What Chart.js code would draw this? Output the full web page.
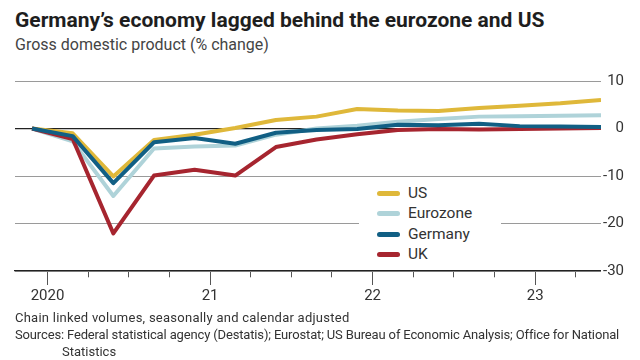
<!DOCTYPE html>
<html>
<head>
<meta charset="utf-8">
<script src="https://cdn.jsdelivr.net/npm/chart.js@4.4.0/dist/chart.umd.min.js"></script>
<style>
  body { margin: 0; background: #fff; font-family: Roboto, "Noto Sans", sans-serif; color: #333; }
  #wrap { position: relative; width: 640px; height: 360px; overflow: hidden; }
  h1 { position: absolute; left: 15px; top: 7px; margin: 0; font-size: 21px; line-height: 26px; font-weight: 700; color: #1e1e1e; white-space: nowrap; }
  .sub { position: absolute; left: 15px; top: 35px; font-size: 16px; line-height: 20px; color: #444; white-space: nowrap; }
  #chartBox { position: absolute; left: 0; top: 70px; width: 640px; height: 241px; }
  #legend { position: absolute; left: 359px; top: 183px; width: 142px; height: 82px; background: #fff; }
  #legend .row { position: absolute; left: 0; height: 20px; width: 142px; }
  #legend .sw { position: absolute; left: 18px; top: 8px; width: 23px; height: 5px; border-radius: 3px; }
  #legend .lb { position: absolute; left: 49px; top: 0; font-size: 15.5px; line-height: 20px; color: #333; }
  .notes { position: absolute; left: 15px; top: 309px; font-size: 13px; line-height: 17px; color: #333; white-space: nowrap; }
</style>
</head>
<body>
<div id="wrap">
  <h1>Germany’s economy lagged behind the eurozone and US</h1>
  <div class="sub">Gross domestic product (% change)</div>
  <div id="chartBox"><canvas id="gdp-chart" width="640" height="241"></canvas></div>
  <div id="legend"></div>
  <div class="notes">
    <div style="letter-spacing:0.25px">Chain linked volumes, seasonally and calendar adjusted</div>
    <div style="letter-spacing:-0.15px">Sources: Federal statistical agency (Destatis); Eurostat; US Bureau of Economic Analysis; Office for National</div>
    <div style="padding-left:47px">Statistics</div>
  </div>
</div>
<script>
// data, % change since Q4 2019
const quarters = ['2019 Q4', '2020 Q1', '2020 Q2', '2020 Q3', '2020 Q4', '2021 Q1', '2021 Q2', '2021 Q3',
  '2021 Q4', '2022 Q1', '2022 Q2', '2022 Q3', '2022 Q4', '2023 Q1', '2023 Q2'];
const us       = [0, -1.0, -10.1, -2.4, -1.3,  0.1,  1.8,  2.5, 4.1,  3.8,  3.7,  4.3, 4.8, 5.3, 6.0];
const eurozone = [0, -2.7, -14.2, -4.2, -3.8, -3.6, -1.3,  0.0, 0.6,  1.4,  2.0,  2.5, 2.6, 2.7, 2.8];
const germany  = [0, -1.6, -11.5, -2.9, -2.0, -3.2, -0.9, -0.3, -0.1, 0.8,  0.7,  1.0, 0.5, 0.4, 0.3];
const uk       = [0, -2.2, -22.1, -9.9, -8.7, -9.9, -3.9, -2.3, -1.2, -0.3, -0.1, -0.2, -0.1, 0.0, 0.1];

const yTicks = [10, 0, -10, -20, -30];
const tickYears = [2020, 2021, 2022, 2023];
const tickLabels = ['2020', '21', '22', '23'];

// legend order (top to bottom)
const series = [
  { name: 'US', data: us, color: '#dfb83a' },
  { name: 'Eurozone', data: eurozone, color: '#afd3d9' },
  { name: 'Germany', data: germany, color: '#115f84' },
  { name: 'UK', data: uk, color: '#a6252f' }
];
// drawing order: first one ends up on top
const drawOrder = ['Germany', 'UK', 'US', 'Eurozone'];

// quarter label -> position in years (points sit a bit into the quarter)
function qx(label) {
  const parts = label.split(' Q');
  return Number(parts[0]) + (Number(parts[1]) - 1) / 4 + 0.155;
}

const datasets = drawOrder.map(name => {
  const s = series.find(d => d.name === name);
  return {
    label: s.name,
    data: s.data.map((v, i) => ({ x: qx(quarters[i]), y: v })),
    borderColor: s.color,
    backgroundColor: s.color,
    borderWidth: 4,
    borderJoinStyle: 'round',
    pointRadius: 0,
    tension: 0,
    fill: false
  };
});

// html legend
const legendBox = document.getElementById('legend');
series.forEach((s, i) => {
  const row = document.createElement('div');
  row.className = 'row';
  row.style.top = (i * 20.3) + 'px';
  row.innerHTML = `<span class="sw" style="background:${s.color}"></span><span class="lb">${s.name}</span>`;
  legendBox.appendChild(row);
});

const gdpCanvas = document.getElementById('gdp-chart');
const gdpChart = new Chart(gdpCanvas, {
  type: 'line',
  data: { datasets: datasets },
  options: {
    responsive: false,
    devicePixelRatio: 1,
    animation: false,
    layout: { padding: { left: 15, right: 16, top: 11, bottom: 4 } },
    plugins: { legend: { display: false }, tooltip: { enabled: false } },
    scales: {
      x: {
        type: 'linear',
        min: 2019.8,
        max: 2023.405,
        afterBuildTicks: scale => {
          const t = [];
          for (let y = 2020; y <= 2023; y++) {
            for (let q = 0; q < 4; q++) {
              if (y + q / 4 <= scale.max) t.push({ value: y + q / 4 });
            }
          }
          scale.ticks = t;
        },
        ticks: {
          autoSkip: false,
          maxRotation: 0,
          padding: 2,
          color: '#333',
          font: { family: 'Roboto', size: 15 },
          callback: v => {
            const k = tickYears.indexOf(v);
            return k >= 0 ? tickLabels[k] : '';
          }
        },
        grid: {
          drawOnChartArea: false,
          tickLength: 14,
          tickColor: '#555',
          tickWidth: 1,
          tickBorderDash: ctx => tickYears.includes(ctx.tick.value) ? [] : [6, 40]
        },
        border: { color: '#222', width: 1.3 }
      },
      y: {
        position: 'right',
        min: -30,
        max: 10,
        afterBuildTicks: scale => { scale.ticks = yTicks.map(v => ({ value: v })); },
        ticks: {
          crossAlign: 'far',
          padding: 1,
          color: '#333',
          font: { family: 'Roboto', size: 15 }
        },
        grid: {
          drawTicks: false,
          color: ctx => ctx.tick.value === 0 ? '#222' : '#9a9a9a',
          lineWidth: ctx => ctx.tick.value === 0 ? 1.3 : 1
        },
        border: { display: false }
      }
    }
  }
});
</script>
</body>
</html>
